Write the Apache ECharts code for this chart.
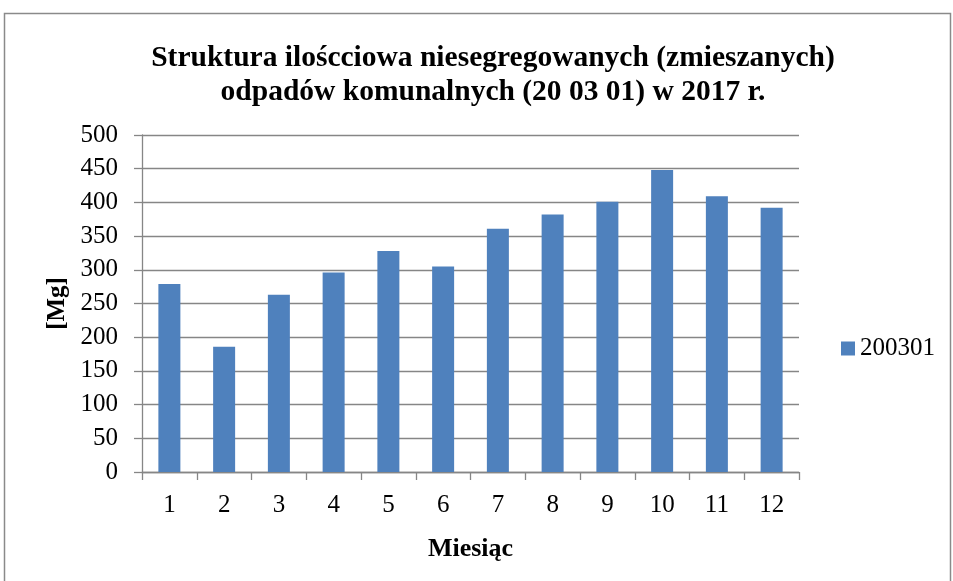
<!DOCTYPE html>
<html>
<head>
<meta charset="utf-8">
<script src="https://cdn.jsdelivr.net/npm/echarts@6/dist/echarts.min.js"></script>
<style>html,body{margin:0;padding:0;background:#fff;}#c{width:953px;height:581px;}</style>
</head>
<body>
<div id="c"></div>
<script>
const months = ['1','2','3','4','5','6','7','8','9','10','11','12'];
const values200301 = [279, 186, 263, 296, 328, 305, 361, 382, 401, 448, 409, 392];
const seriesName = '200301';
const titleText = 'Struktura iloścciowa niesegregowanych (zmieszanych)\nodpadów komunalnych (20 03 01) w 2017 r.';
const xAxisTitle = 'Miesiąc';
const yAxisTitle = '[Mg]';

const chart = echarts.init(document.getElementById('c'), null, {renderer: 'canvas'});
const font = '"Liberation Serif", "Times New Roman", serif';
const gray = '#868686';
chart.setOption({
  animation: false,
  backgroundColor: '#fff',
  graphic: [{
    type: 'rect', shape: {x: 4.5, y: 13.5, width: 946, height: 600},
    style: {fill: 'none', stroke: '#8a8a8a', lineWidth: 1.5}, silent: true
  }],
  title: {
    text: titleText, left: 488, top: 36, textAlign: 'center',
    textStyle: {fontFamily: font, fontWeight: 'bold', fontSize: 29.5, lineHeight: 34, color: '#000'}
  },
  legend: {
    data: [seriesName], left: 836, top: 331, itemWidth: 14, itemHeight: 14, itemGap: 4,
    icon: 'rect',
    textStyle: {fontFamily: font, fontSize: 25, color: '#000'}
  },
  grid: {left: 142, right: 154, top: 135, bottom: 109, containLabel: false},
  xAxis: {
    type: 'category', data: months,
    name: xAxisTitle, nameLocation: 'middle', nameGap: 64,
    nameTextStyle: {fontFamily: font, fontWeight: 'bold', fontSize: 26, color: '#000'},
    axisLine: {lineStyle: {color: gray, width: 1.3}},
    axisTick: {show: true, length: 8, lineStyle: {color: gray, width: 1.3}},
    axisLabel: {fontFamily: font, fontSize: 25, color: '#000', margin: 21}
  },
  yAxis: {
    type: 'value', min: 0, max: 500, interval: 50,
    name: yAxisTitle, nameLocation: 'middle', nameGap: 72, nameRotate: 90,
    nameTextStyle: {fontFamily: font, fontWeight: 'bold', fontSize: 25, color: '#000'},
    axisLine: {show: true, lineStyle: {color: gray, width: 1.3}},
    axisTick: {show: true, length: 8, lineStyle: {color: gray, width: 1.3}},
    axisLabel: {fontFamily: font, fontSize: 25, color: '#000', margin: 24},
    splitLine: {show: true, lineStyle: {color: gray, width: 1.3}}
  },
  series: [{
    name: seriesName, type: 'bar', data: values200301,
    barWidth: 22,
    itemStyle: {color: '#4f81bd'}
  }]
});
</script>
</body>
</html>
